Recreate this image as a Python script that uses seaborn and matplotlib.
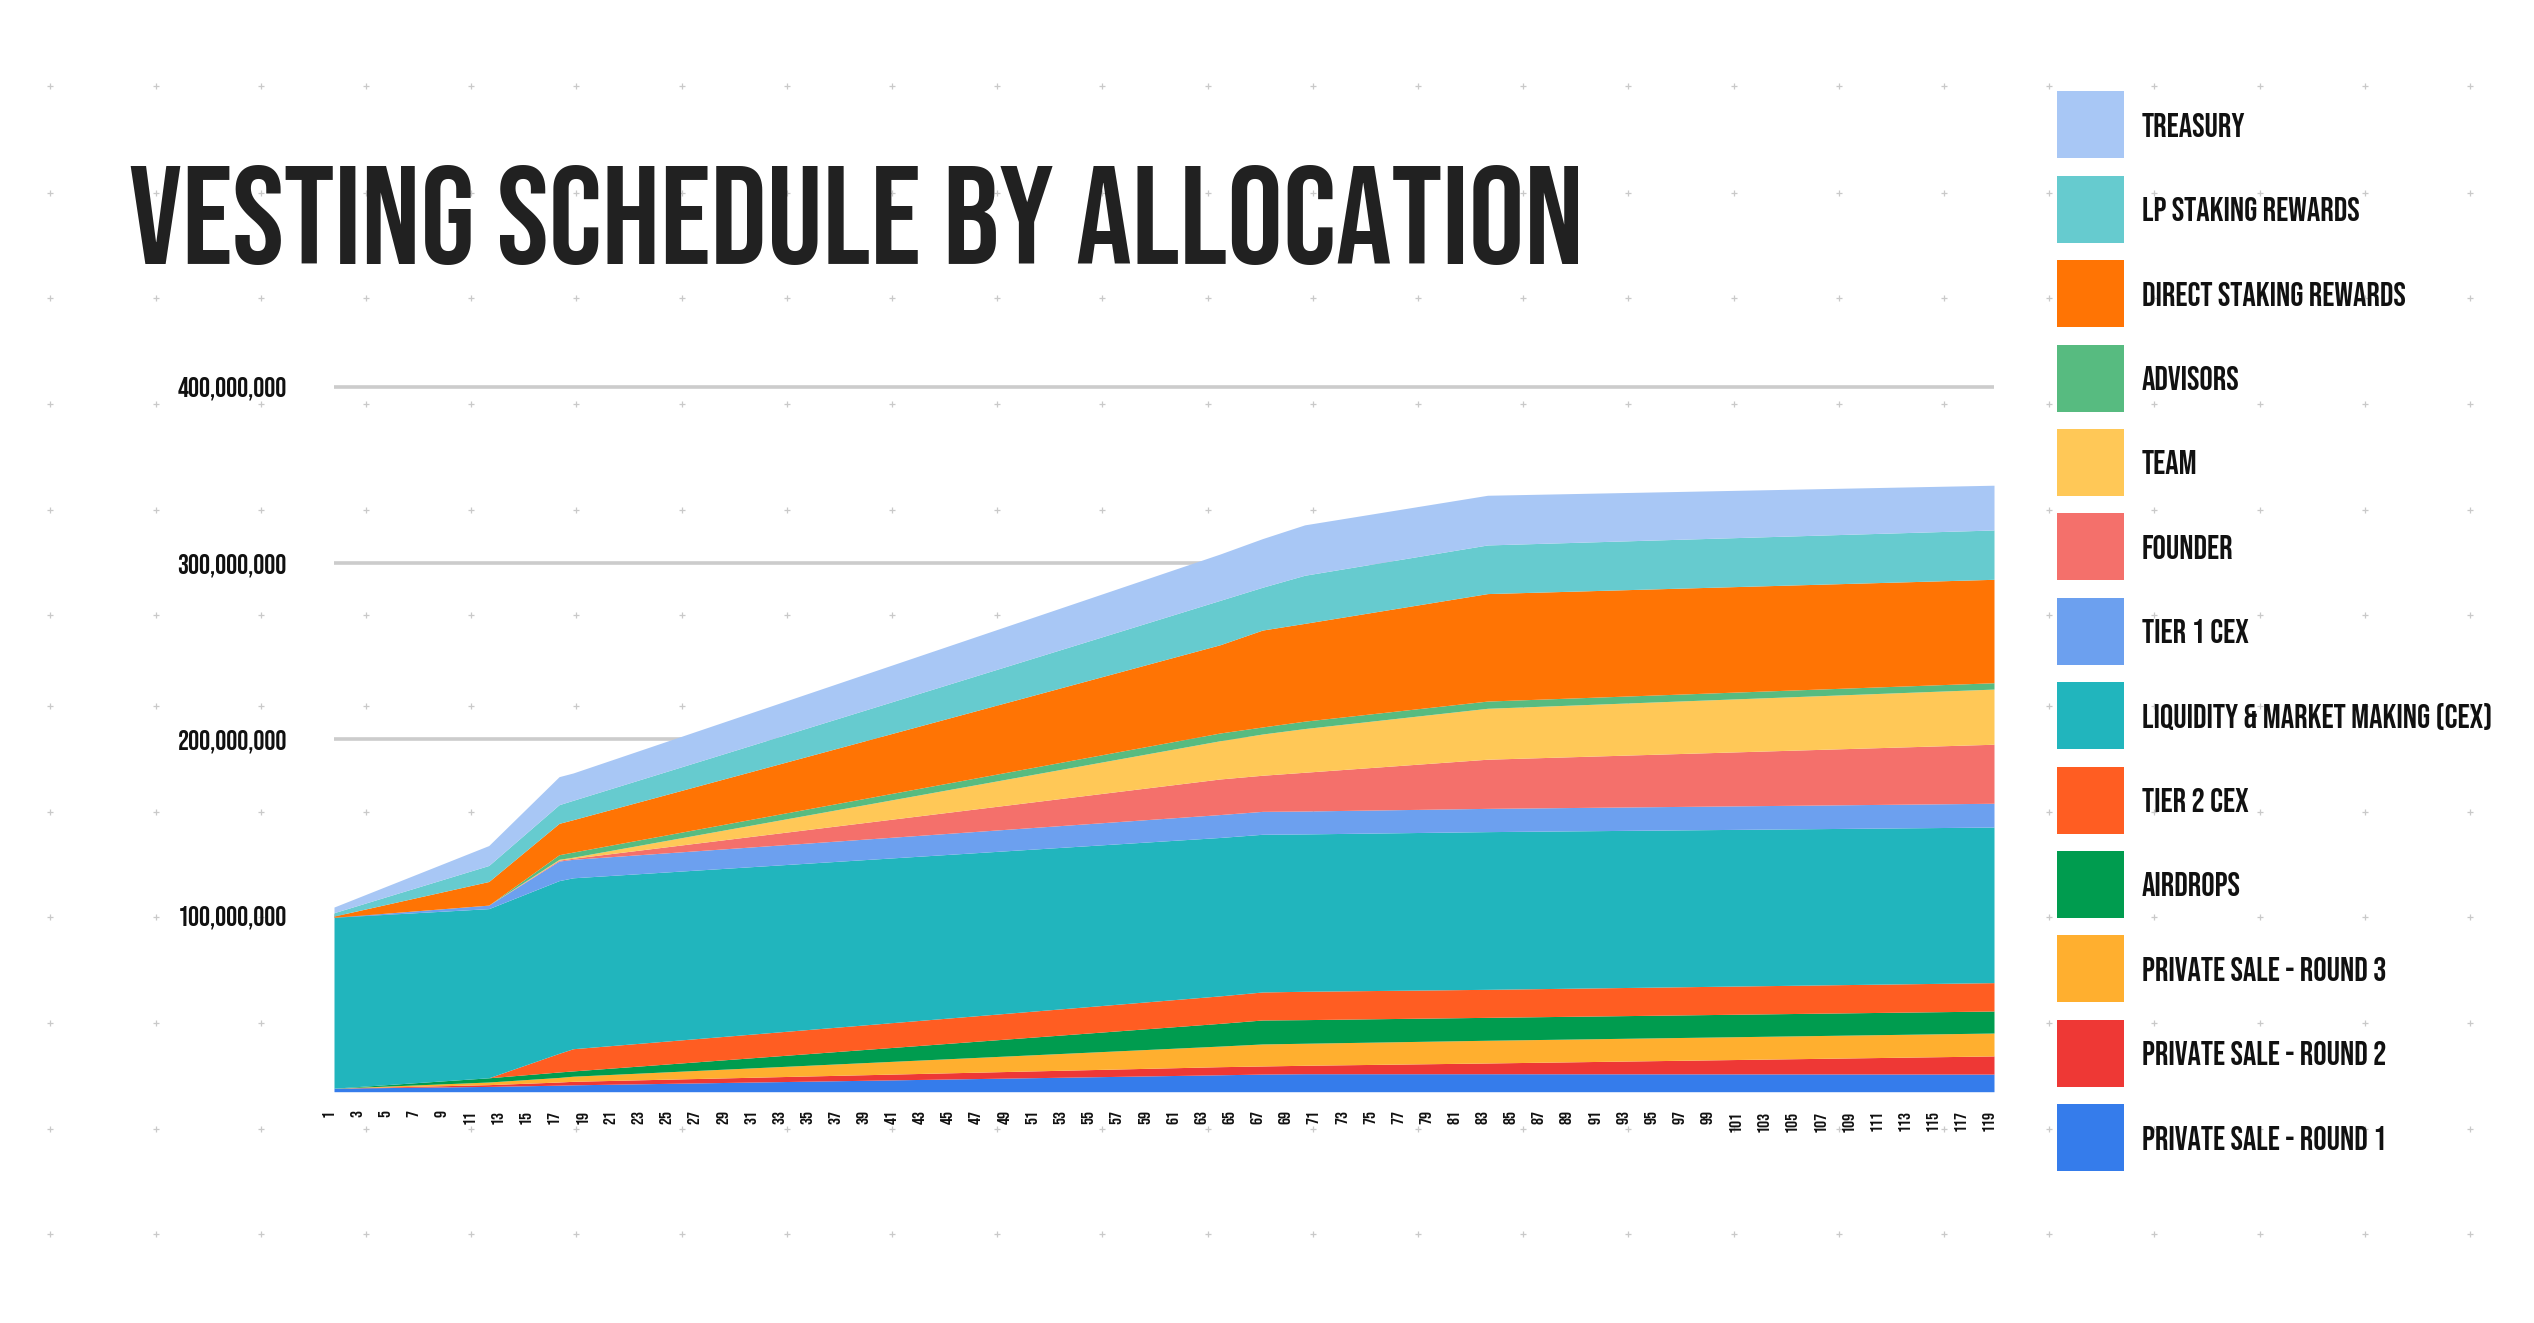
import numpy as np
import pandas as pd
import matplotlib
matplotlib.use("Agg")
import matplotlib.pyplot as plt
import seaborn as sns
from matplotlib import font_manager as fm
from matplotlib.patches import Rectangle
import matplotlib.transforms as mtransforms

# ---------------- data (values in millions of tokens) -------------
months = [1, 12, 17, 18, 64, 67, 70, 83, 119]

private_sale_r1 = [2.0, 3.0, 3.7, 3.9, 9.6, 10.0, 10.2, 10.2, 10.0]
private_sale_r2 = [0.0, 1.0, 1.8, 2.0, 4.6, 4.6, 4.8, 6.1, 10.3]
private_sale_r3 = [0.0, 1.5, 2.6, 2.9, 11.7, 12.5, 12.5, 12.9, 13.0]
airdrops = [0.0, 2.4, 3.1, 3.0, 12.9, 13.6, 13.4, 13.0, 12.5]
tier2_cex = [0.0, 0.0, 10.6, 12.6, 15.6, 15.9, 16.1, 15.9, 16.1]
liquidity_mm = [97.0, 96.0, 98.0, 97.0, 89.9, 89.5, 89.3, 89.5, 88.3]
tier1_cex = [0.0, 2.0, 11.1, 10.5, 13.0, 13.0, 13.0, 13.2, 13.5]
founder = [0.0, 0.0, 0.5, 0.6, 20.2, 20.5, 22.0, 27.9, 33.5]
team = [0.0, 0.0, 0.5, 0.6, 21.7, 23.4, 24.8, 28.9, 31.3]
advisors = [0.0, 0.0, 2.6, 2.9, 4.4, 4.0, 4.2, 4.1, 3.6]
direct_staking = [0.7, 13.4, 17.8, 18.4, 50.1, 55.0, 55.5, 61.0, 58.7]
lp_staking = [1.9, 9.1, 10.6, 11.0, 25.2, 24.3, 27.3, 27.6, 28.0]
treasury = [3.2, 11.3, 15.9, 15.5, 26.3, 27.6, 28.6, 28.2, 25.4]

# stacking order, bottom -> top
series_labels = [
    "PRIVATE SALE - ROUND 1", "PRIVATE SALE - ROUND 2", "PRIVATE SALE - ROUND 3",
    "AIRDROPS", "TIER 2 CEX", "LIQUIDITY & MARKET MAKING (CEX)", "TIER 1 CEX",
    "FOUNDER", "TEAM", "ADVISORS", "DIRECT STAKING REWARDS", "LP STAKING REWARDS",
    "TREASURY",
]
series_values = [
    private_sale_r1, private_sale_r2, private_sale_r3, airdrops, tier2_cex,
    liquidity_mm, tier1_cex, founder, team, advisors, direct_staking,
    lp_staking, treasury,
]
series_colors = [
    "#357CEB", "#EE3835", "#FFAF2F", "#009C4F", "#FF5D22", "#21B5BD", "#6CA0EF",
    "#F4706B", "#FFC857", "#57BB80", "#FF7404", "#66CBCF", "#A8C7F5",
]

y_ticks = [100_000_000, 200_000_000, 300_000_000, 400_000_000]
x_ticks = list(range(1, 120, 2))
title = "VESTING SCHEDULE BY ALLOCATION"

# ---------------- style ----------------
sns.set_theme(style="white")

names = {f.name for f in fm.fontManager.ttflist}
FAM, STRETCH = "Roboto", "normal"
for cand in ["Bebas Neue", "Oswald", "Roboto Condensed", "Liberation Sans Narrow",
             "Open Sans Condensed", "Noto Sans Condensed"]:
    if cand in names:
        FAM = cand
        break
else:
    if any(f.name == "DejaVu Sans" and f.stretch == "condensed" for f in fm.fontManager.ttflist):
        FAM, STRETCH = "DejaVu Sans", "condensed"
plt.rcParams["font.family"] = [FAM, "DejaVu Sans"]

W, H = 2534, 1323
fig = plt.figure(figsize=(W / 100, H / 100), dpi=100, facecolor="white")
renderer = fig.canvas.get_renderer()
FONT = dict(family=[FAM, "DejaVu Sans"], weight="bold", stretch=STRETCH)


def fit_size(text, target_w, max_pt):
    t = fig.text(0, 0, text, fontsize=100, **FONT)
    w = t.get_window_extent(renderer).width
    t.remove()
    return min(100 * target_w / w, max_pt)


# background dot grid
bg = fig.add_axes([0, 0, 1, 1], zorder=-5)
bg.set_xlim(0, W)
bg.set_ylim(H, 0)
bg.axis("off")
gx = 50.4 + 105.2 * np.arange(24)
gy = np.array([86, 192.5, 298.3, 404, 509.5, 615.3, 706, 811.7, 917.3, 1023, 1128.7, 1234.4])
GX, GY = np.meshgrid(gx, gy)
bg.scatter(GX.ravel(), GY.ravel(), marker="+", s=14, c="#c9c9c9", linewidths=0.9)

# main axes
ax_left, ax_right, ax_bottom = 334, 1994, 1091.7
px_per_m = 1.762
ymax = 405e6
ax = fig.add_axes([ax_left / W, (H - ax_bottom) / H, (ax_right - ax_left) / W,
                   (ymax / 1e6 * px_per_m) / H])
ax.set_facecolor("none")

df = pd.DataFrame({lab: vals for lab, vals in zip(series_labels, series_values)}, index=months)
ax.stackplot(df.index, [df[c].to_numpy() * 1e6 for c in series_labels],
             colors=series_colors, linewidth=0, antialiased=True)
ax.set_xlim(1, 119)
ax.set_ylim(0, ymax)

ax.grid(axis="y", color="#cccccc", linewidth=2.6)
ax.grid(axis="x", visible=False)
ax.set_axisbelow(True)
sns.despine(ax=ax, left=True, bottom=True, top=True, right=True)

ylab_size = fit_size("400,000,000", 110, 20)
xlab_size = fit_size("119", 21, 13)
ax.set_yticks(y_ticks, labels=[f"{v:,}" for v in y_ticks], fontsize=ylab_size,
              color="#111111", **FONT)
ax.set_xticks(x_ticks, labels=[str(m) for m in x_ticks], fontsize=xlab_size,
              color="#111111", rotation=90, **FONT)
ax.tick_params(axis="x", length=0, pad=13.5)
ax.tick_params(axis="y", length=0, pad=34)
shift = mtransforms.ScaledTranslation(-6 / 100, 0, fig.dpi_scale_trans)
for lab in ax.get_xticklabels():
    lab.set_transform(lab.get_transform() + shift)

# title
title_size = fit_size(title, 1455, 103)
fig.text(129 / W, 1 - 215 / H, title, fontsize=title_size, color="#212121",
         ha="left", va="center", **FONT)

# legend (top -> bottom)
leg_size = fit_size("LIQUIDITY & MARKET MAKING (CEX)", 356, 24)
for i, (lab, col) in enumerate(zip(series_labels[::-1], series_colors[::-1])):
    cy = 124.8 + i * 84.4
    fig.add_artist(Rectangle((2057 / W, 1 - (cy + 33.5) / H), 67 / W, 67 / H,
                             transform=fig.transFigure, facecolor=col, edgecolor="none"))
    fig.text(2142 / W, 1 - cy / H, lab, fontsize=leg_size, color="#111111",
             ha="left", va="center_baseline", **FONT)

fig.savefig("out.png", dpi=100, facecolor="white")
